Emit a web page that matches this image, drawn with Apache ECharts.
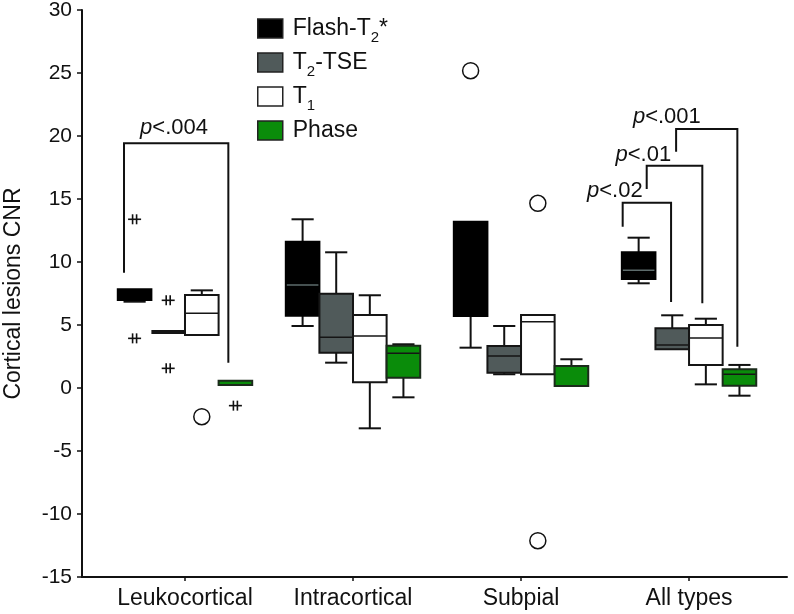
<!DOCTYPE html>
<html><head><meta charset="utf-8">
<script src="https://cdn.jsdelivr.net/npm/echarts@6/dist/echarts.min.js"></script>
<style>html,body{margin:0;padding:0;background:#fff}#c{width:794px;height:614px}</style>
</head><body><div id="c"></div>
<script>
// ---- data ----
const categories = ['Leukocortical', 'Intracortical', 'Subpial', 'All types'];
const seriesNames = ['Flash-T2*', 'T2-TSE', 'T1', 'Phase'];
// [min, q1, median, q3, max] for each category
const flashT2 = [[6.85, 6.98, 6.98, 7.83, 7.83], [4.92, 5.74, 8.17, 11.61, 13.39], [3.2, 5.71, 5.71, 13.2, 13.2], [8.31, 8.65, 9.34, 10.77, 11.93]];
const t2tse   = [[4.44, 4.44, 4.44, 4.44, 4.44], [2.01, 2.79, 4.02, 7.48, 10.77], [1.09, 1.21, 2.54, 3.33, 4.92], [3.07, 3.07, 3.41, 4.74, 5.77]];
const t1      = [[4.21, 4.21, 5.93, 7.38, 7.75], [-3.20, 0.45, 4.13, 5.79, 7.36], [1.09, 1.09, 5.26, 5.79, 5.79], [0.29, 1.83, 3.97, 5.0, 5.5]];
const phase   = [[0.24, 0.24, 0.24, 0.58, 0.58], [-0.74, 0.82, 2.75, 3.36, 3.47], [0.16, 0.16, 0.16, 1.75, 2.28], [-0.61, 0.18, 1.09, 1.48, 1.83]];
// outliers: [categoryIndex, seriesIndex, value, marker]
const outliers = [
  [0, 0, 13.39, 'star'], [0, 0, 3.94, 'star'], [0, 1, 6.96, 'star'], [0, 1, 1.56, 'star'],
  [0, 2, -2.28, 'circle'], [0, 3, -1.40, 'star'],
  [2, 0, 25.18, 'circle'], [2, 2, 14.66, 'circle'], [2, 2, -12.12, 'circle']
];
// significance brackets: [categoryIndex, yTop, yLeftEnd, yRightEnd, label]
const brackets = [
  [0, 19.42, 9.15, 2.01, 'p<.004'],
  [3, 14.71, 12.8, 6.83, 'p<.02'],
  [3, 17.64, 15.79, 6.72, 'p<.01'],
  [3, 20.56, 18.75, 3.28, 'p<.001']
];
const yRange = [-15, 30];
const yStep = 5;

// ---- layout / style ----
const STEP = 0.2;                      // box width in category units
const bracketX = [[-0.363, 0.258], [-0.395, -0.107], [-0.252, 0.079], [-0.077, 0.2875]];
const bracketLabelPos = [[-0.065, 20.63], [-0.442, 15.67], [-0.272, 18.53], [-0.132, 21.5]];
const styles = [
  { fill: '#000000', border: '#000000', median: '#5d6b6b' },
  { fill: '#505a5a', border: '#151515', median: '#151515' },
  { fill: '#ffffff', border: '#151515', median: '#151515' },
  { fill: '#0a8c0a', border: '#1b2b1b', median: '#151515' }
];
const FONT = 'Liberation Sans, Arial, sans-serif';
const INK = '#111111';
const allSeries = [flashT2, t2tse, t1, phase];

function ln(x1, y1, x2, y2, color, w) {
  return { type: 'line', shape: { x1, y1, x2, y2 }, style: { stroke: color || INK, lineWidth: w || 2 } };
}

function boxRender(sIdx) {
  const st = styles[sIdx];
  return function (params, api) {
    const cat = api.value(0);
    const xc = cat + (sIdx - 1.5) * STEP;
    const vmin = api.value(1), q1 = api.value(2), med = api.value(3), q3 = api.value(4), vmax = api.value(5);
    const w = api.size([STEP, 0])[0];
    const x0 = api.coord([xc, 0])[0];
    const Y = v => api.coord([xc, v])[1];
    const left = x0 - w / 2;
    const capW = w * 0.66;
    const ch = [];
    if (vmax > q3) {
      ch.push(ln(x0, Y(q3), x0, Y(vmax)));
      ch.push(ln(x0 - capW / 2, Y(vmax), x0 + capW / 2, Y(vmax)));
    }
    if (vmin < q1) {
      ch.push(ln(x0, Y(q1), x0, Y(vmin)));
      ch.push(ln(x0 - capW / 2, Y(vmin), x0 + capW / 2, Y(vmin)));
    }
    if (q3 - q1 < 0.05) {
      // collapsed box: drawn as a thick bar
      ch.push(ln(left, Y(med), left + w, Y(med), st.border, 4));
      return { type: 'group', children: ch };
    }
    const rect = { x: left, y: Y(q3), width: w, height: Y(q1) - Y(q3) };
    ch.push({ type: 'rect', shape: rect, style: { fill: st.fill } });
    ch.push(ln(left, Y(med), left + w, Y(med), st.median, 1.5));
    ch.push({ type: 'rect', shape: rect, style: { fill: null, stroke: st.border, lineWidth: 2 } });
    return { type: 'group', children: ch };
  };
}

const series = allSeries.map((arr, s) => ({
  name: seriesNames[s],
  type: 'custom',
  renderItem: boxRender(s),
  itemStyle: { color: styles[s].fill, borderColor: INK, borderWidth: 1.5 },
  encode: { x: 0, y: [1, 2, 3, 4, 5] },
  data: arr.map((v, i) => [i + 1].concat(v)),
  z: 3
}));

series.push({
  name: 'outliers',
  type: 'custom',
  z: 4,
  encode: { x: 0, y: 2 },
  data: outliers.map(o => [o[0] + 1, o[1], o[2], o[3] === 'circle' ? 0 : 1]),
  renderItem: function (params, api) {
    const xc = api.value(0) + (api.value(1) - 1.5) * STEP;
    const p = api.coord([xc, api.value(2)]);
    if (api.value(3) === 0) {
      return { type: 'circle', shape: { cx: p[0], cy: p[1], r: 8 }, style: { fill: '#fff', stroke: INK, lineWidth: 1.5 } };
    }
    return { type: 'group', children: [
      ln(p[0] - 6.5, p[1], p[0] + 6.5, p[1], INK, 1.6),
      ln(p[0] - 2, p[1] - 5, p[0] - 2, p[1] + 5, INK, 1.6),
      ln(p[0] + 2, p[1] - 5, p[0] + 2, p[1] + 5, INK, 1.6)
    ] };
  }
});

series.push({
  name: 'brackets',
  type: 'custom',
  z: 5,
  encode: { x: 0, y: 1 },
  data: brackets.map((b, i) => [b[0] + 1, b[1], b[2], b[3], i]),
  renderItem: function (params, api) {
    const i = api.value(4);
    const cat = api.value(0);
    const xl = cat + bracketX[i][0], xr = cat + bracketX[i][1];
    const pTopL = api.coord([xl, api.value(1)]);
    const pTopR = api.coord([xr, api.value(1)]);
    const pL = api.coord([xl, api.value(2)]);
    const pR = api.coord([xr, api.value(3)]);
    const lp = api.coord([cat + bracketLabelPos[i][0], bracketLabelPos[i][1]]);
    const label = brackets[i][4];
    return { type: 'group', children: [
      { type: 'polyline', shape: { points: [pL, pTopL, pTopR, pR] }, style: { fill: null, stroke: INK, lineWidth: 2 } },
      { type: 'text', x: lp[0], y: lp[1], style: {
          text: '{i|p}' + label.slice(1), align: 'center', verticalAlign: 'middle',
          fontSize: 22, fontFamily: FONT, fill: INK,
          rich: { i: { fontStyle: 'italic', fontSize: 22, fontFamily: FONT, fill: INK } }
      } }
    ] };
  }
});

const subOf = {
  'Flash-T2*': 'Flash-T{s|2}*',
  'T2-TSE': 'T{s|2}-TSE',
  'T1': 'T{s|1}',
  'Phase': 'Phase{s| }'
};

const chart = echarts.init(document.getElementById('c'), null, { renderer: 'canvas' });
chart.setOption({
  animation: false,
  backgroundColor: '#fff',
  grid: { left: 82, right: 7, top: 10, bottom: 37, containLabel: false, outerBoundsMode: 'none' },
  legend: {
    orient: 'vertical', left: 257, top: 12, padding: 0, itemGap: 1,
    icon: 'rect', itemWidth: 25, itemHeight: 19,
    data: seriesNames.map((n, s) => ({ name: n, icon: 'rect', itemStyle: { color: styles[s].fill, borderColor: '#222', borderWidth: 1.5 } })),
    formatter: n => subOf[n],
    selectedMode: false,
    textStyle: {
      fontSize: 23, fontFamily: FONT, color: INK, lineHeight: 26, padding: [0, 0, 0, 5],
      rich: { s: { fontSize: 15, lineHeight: 15, fontFamily: FONT, color: INK, padding: [18, 0, 0, 0] } }
    }
  },
  xAxis: {
    type: 'value', min: 0.387, max: 4.583,
    splitLine: { show: false },
    axisLine: { show: true, onZero: false, lineStyle: { color: INK, width: 2 } },
    axisTick: { show: true, length: 4, lineStyle: { color: INK, width: 1.5 }, customValues: [1, 2, 3, 4] },
    axisLabel: {
      customValues: [1, 2, 3, 4], margin: 10,
      formatter: v => categories[Math.round(v) - 1] || '',
      fontSize: 23, fontFamily: FONT, color: INK
    }
  },
  yAxis: {
    type: 'value', min: yRange[0], max: yRange[1], interval: yStep,
    name: 'Cortical lesions CNR', nameLocation: 'middle', nameRotate: 90, nameGap: 57,
    nameTextStyle: { fontSize: 23, fontFamily: FONT, color: INK },
    splitLine: { show: false },
    axisLine: { show: true, onZero: false, lineStyle: { color: INK, width: 2 } },
    axisTick: { show: true, length: 5, lineStyle: { color: INK, width: 1.5 } },
    axisLabel: { fontSize: 21, fontFamily: FONT, color: INK, margin: 10 }
  },
  series: series
});
</script>
</body></html>
